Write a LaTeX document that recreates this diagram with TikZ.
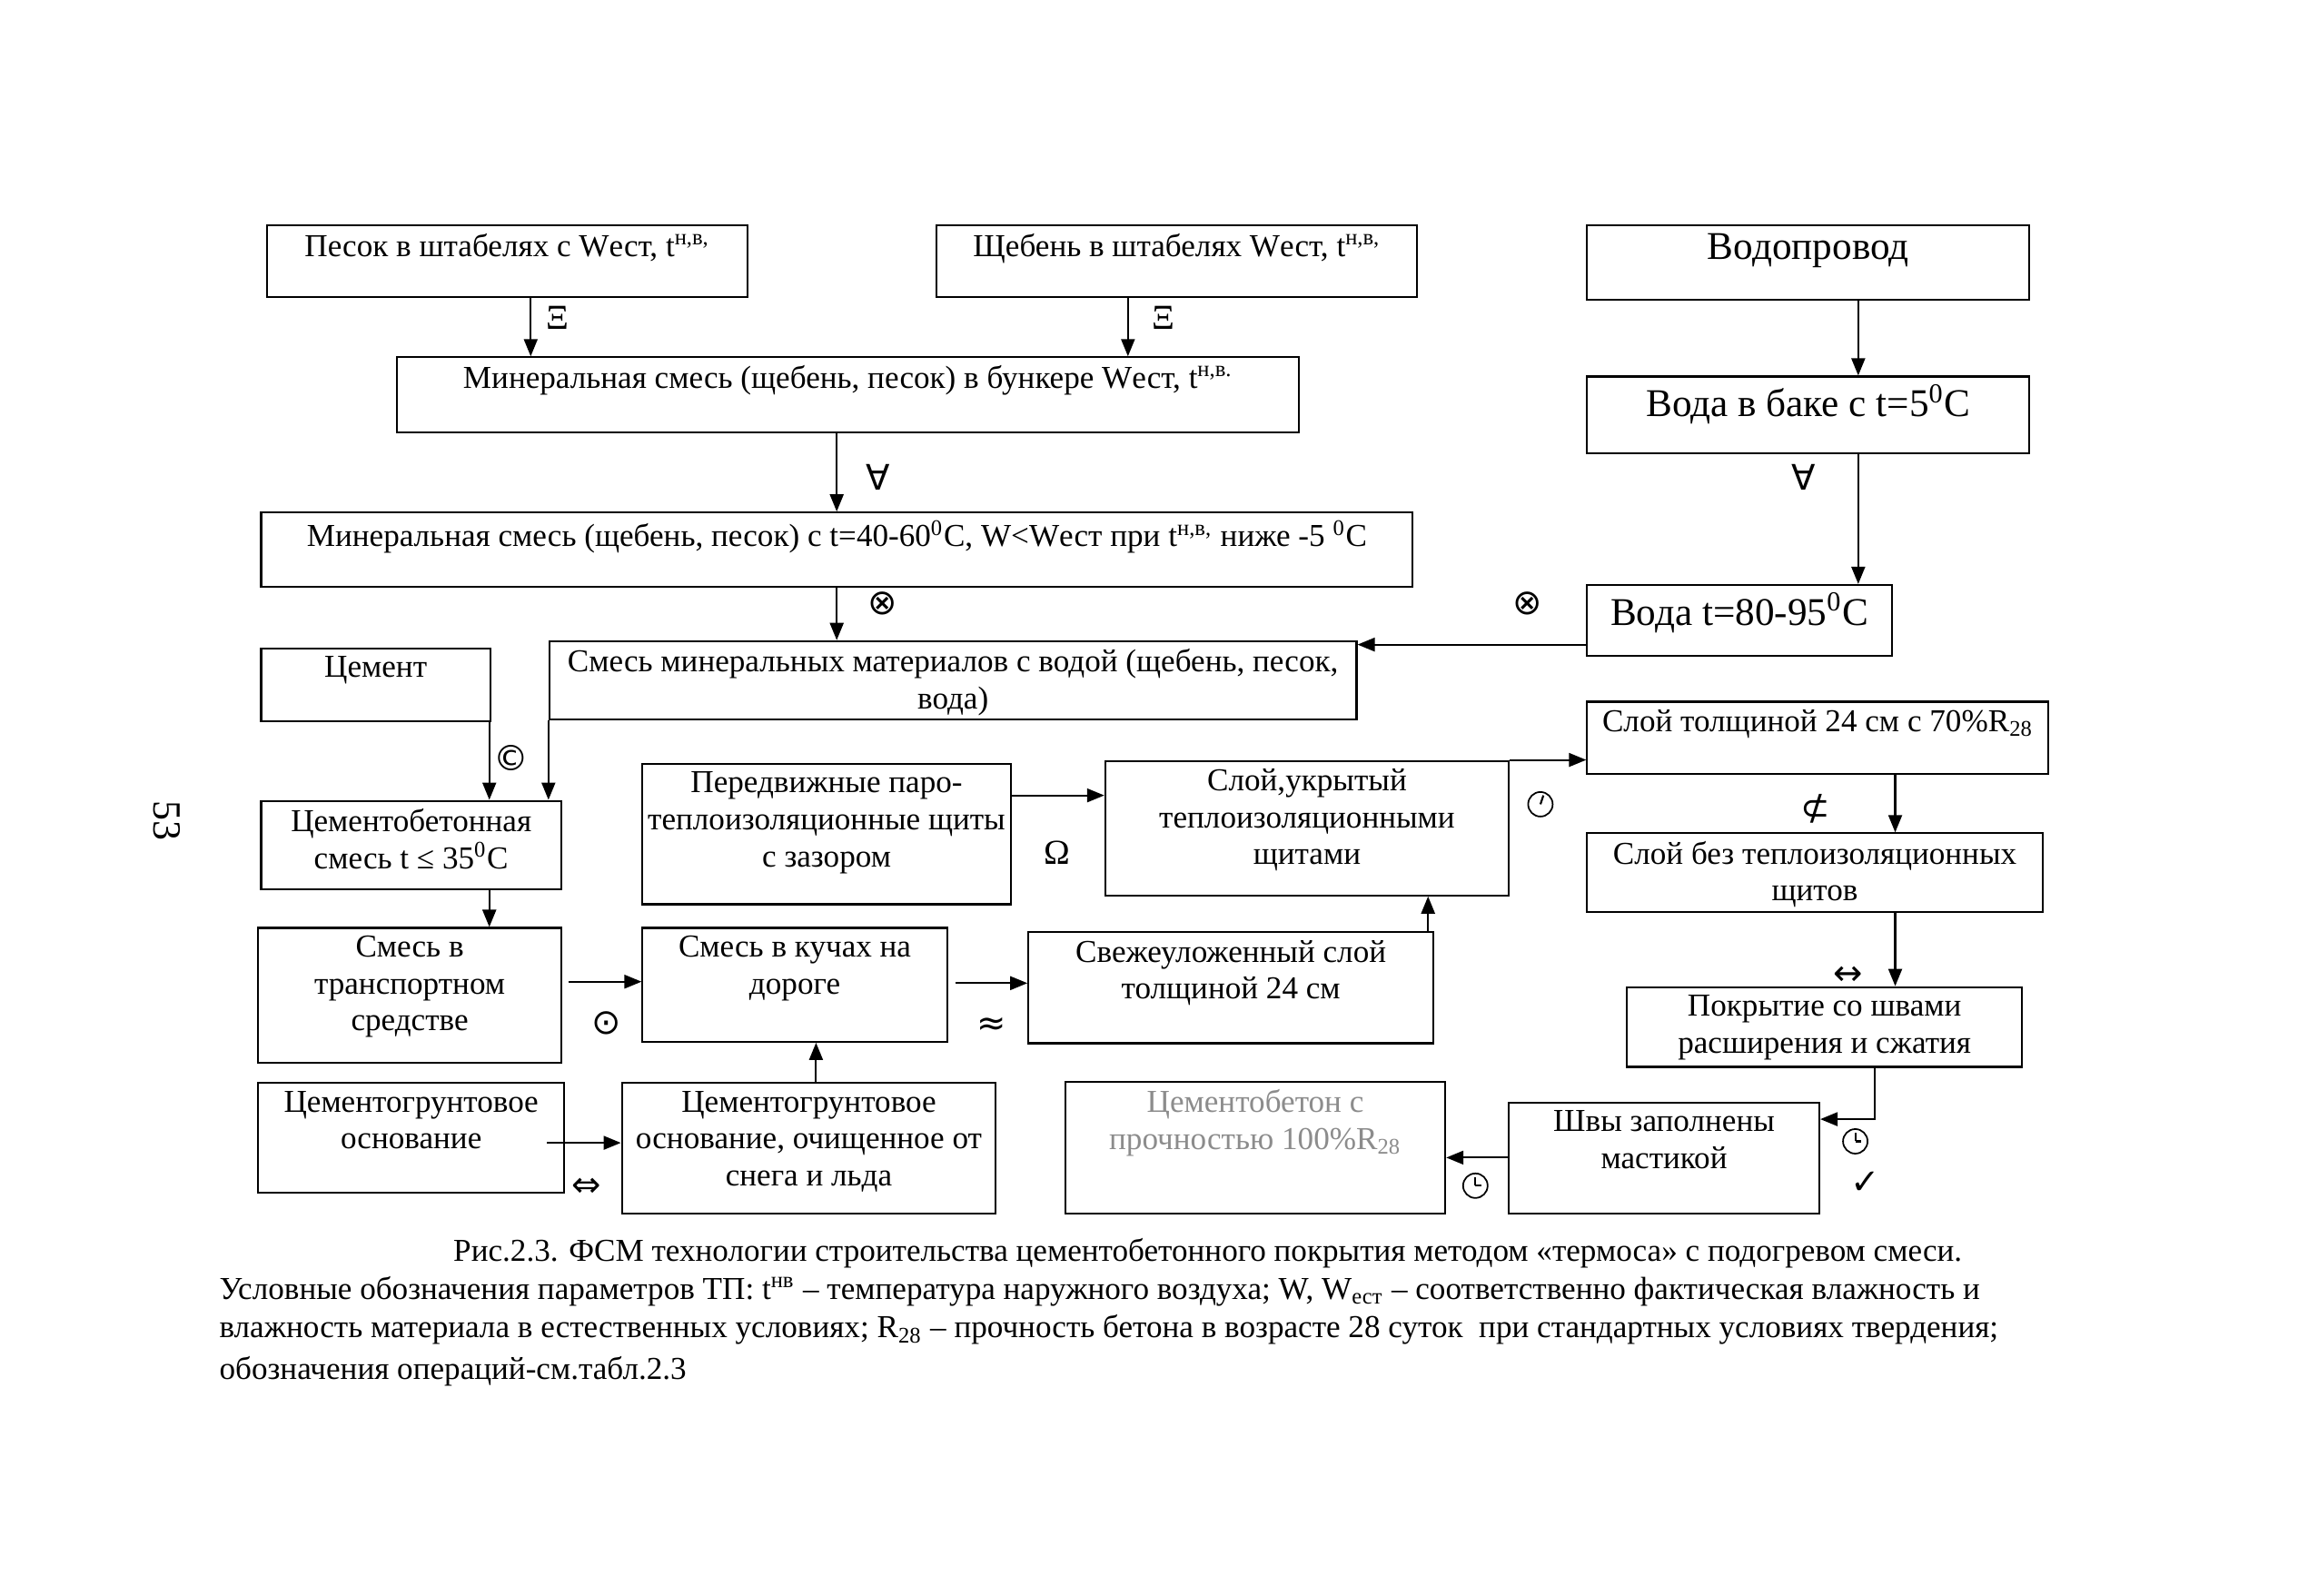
\documentclass[tikz,border=0pt]{standalone}
\usepackage{fontspec}
\setmainfont{Liberation Serif}
\newfontfamily\symf{DejaVu Sans}
\usetikzlibrary{arrows.meta,calc}
\newcommand\bx[7]{%
  \node[box, anchor=north west, minimum width={(#4-#2)*0.016276cm}, minimum height={(#5-#3)*0.016276cm}] (#1) at (#2,#3) {};
  \node[#6, anchor=north] (#1t) at ([yshift=-0.09cm]#1.north) {#7};}
\newcommand\clocka[3]{%
  \node[circle, draw, line width=0.5pt, minimum size=0.27cm, inner sep=0pt] (#1) at (#2,#3) {};
  \draw[line width=0.6pt] (#1.center) -- ++(2,-6);}
\newcommand\clockb[3]{%
  \node[circle, draw, line width=0.5pt, minimum size=0.27cm, inner sep=0pt] (#1) at (#2,#3) {};
  \draw[line width=0.6pt] (#1.center) -- ++(0,-6) (#1.center) -- ++(4,0);}
\begin{document}
\begin{tikzpicture}[x=0.016276cm,y=-0.016276cm,
  box/.style={draw, line width=0.6pt, inner sep=0pt, rectangle},
  txt/.style={inner sep=0pt, align=center, font=\fontsize{10}{11.6}\selectfont},
  gtxt/.style={txt, text=black!45},
  big/.style={inner sep=0pt, align=center, font=\fontsize{12.3}{14}\selectfont},
  arr/.style={line width=0.6pt, -{Triangle[length=1.9mm,width=1.5mm]}},
  lbl/.style={inner sep=0pt, font=\symf\fontsize{11}{12}\selectfont},
  lblr/.style={inner sep=0pt, font=\fontsize{11}{12}\selectfont},
  captxt/.style={inner sep=0pt, anchor=base west, font=\fontsize{10}{12}\selectfont}]
\fill[white] (0,0) rectangle (1568,1079);
\useasboundingbox (0,0) rectangle (1568,1079);

% boxes
\bx{pesok}{180}{152}{505}{200}{txt}{Песок в штабелях с Wест, t\textsuperscript{н,в,}}
\bx{scheb}{633}{152}{958}{200}{txt}{Щебень в штабелях Wест, t\textsuperscript{н,в,}}
\bx{vodopr}{1073}{152}{1372}{202}{big}{Водопровод}
\bx{bunker}{268}{241}{878}{292}{txt}{Минеральная смесь (щебень, песок) в бункере Wест, t\textsuperscript{н,в.}}
\bx{bak}{1073}{254}{1372}{306}{big}{Вода в баке с t=5\textsuperscript{0}C}
\bx{miner}{176}{346}{955}{396}{txt}{Минеральная смесь (щебень, песок) с t=40-60\textsuperscript{0}C, W<Wест при t\textsuperscript{н,в,} ниже -5 \textsuperscript{0}C}
\bx{voda}{1073}{395}{1279}{443}{big}{Вода t=80-95\textsuperscript{0}C}
\bx{cement}{176}{438}{331}{487}{txt}{Цемент}
\bx{smes}{371}{433}{917}{486}{txt}{Смесь минеральных материалов с водой (щебень, песок,\\вода)}
\bx{cbs}{176}{541}{379}{601}{txt}{Цементобетонная\\смесь t ≤ 35\textsuperscript{0}C}
\bx{pered}{434}{516}{683}{611}{txt}{Передвижные паро-\\теплоизоляционные щиты\\с зазором}
\bx{ukryt}{747}{514}{1020}{605}{txt}{Слой,укрытый\\теплоизоляционными\\щитами}
\bx{tolsh}{1073}{474}{1385}{523}{txt}{Слой толщиной 24 см с 70\%R\textsubscript{28}}
\bx{bez}{1073}{563}{1381}{616}{txt}{Слой без теплоизоляционных\\щитов}
\bx{trans}{174}{627}{379}{718}{txt}{Смесь в\\транспортном\\средстве}
\bx{kuchi}{434}{627}{640}{704}{txt}{Смесь в кучах на\\дороге}
\bx{svezh}{695}{630}{969}{705}{txt}{Свежеуложенный слой\\толщиной 24 см}
\bx{pokr}{1100}{667}{1367}{721}{txt}{Покрытие со швами\\расширения и сжатия}
\bx{cgr}{174}{732}{381}{806}{txt}{Цементогрунтовое\\основание}
\bx{cgro}{420}{732}{673}{820}{txt}{Цементогрунтовое\\основание, очищенное от\\снега и льда}
\bx{cb}{720}{731}{977}{820}{gtxt}{Цементобетон с\\прочностью 100\%R\textsubscript{28}}
\bx{shvy}{1020}{745}{1230}{820}{txt}{Швы заполнены\\мастикой}

% connectors
\draw[arr] (359,0 |- pesok.south) -- (359,0 |- bunker.north);
\draw[arr] (763,0 |- scheb.south) -- (763,0 |- bunker.north);
\draw[arr] (1257,0 |- vodopr.south) -- (1257,0 |- bak.north);
\draw[arr] (566,0 |- bunker.south) -- (566,0 |- miner.north);
\draw[arr] (1257,0 |- bak.south) -- (1257,0 |- voda.north);
\draw[arr] (566,0 |- miner.south) -- (566,0 |- smes.north);
\draw[arr] (voda.west |- 0,436) -- (smes.east |- 0,436);
\draw[arr] (331,0 |- cement.south) -- (331,0 |- cbs.north);
\draw[arr] (smes.south west) -- (smes.south west |- cbs.north);
\draw[arr] (331,0 |- cbs.south) -- (331,0 |- trans.north);
\draw[arr, shorten <=0.07cm] (trans.east |- 0,664) -- (kuchi.west |- 0,664);
\draw[arr, shorten <=0.08cm] (kuchi.east |- 0,665) -- (svezh.west |- 0,665);
\draw[arr, shorten <=-0.2cm] (cgr.east |- 0,773) -- (cgro.west |- 0,773);
\draw[arr] (552,0 |- cgro.north) -- (552,0 |- kuchi.south);
\draw[arr] (pered.east |- 0,538) -- (ukryt.west |- 0,538);
\draw[arr] (966,0 |- svezh.north) -- (966,0 |- ukryt.south);
\draw[arr] (ukryt.north east) -- (tolsh.west |- ukryt.north east);
\draw[arr] (1282,0 |- tolsh.south) -- (1282,0 |- bez.north);
\draw[arr] (1282,0 |- bez.south) -- (1282,0 |- pokr.north);
\draw[arr] (1268,0 |- pokr.south) |- (shvy.east |- 0,757);
\draw[arr] (shvy.west |- 0,783) -- (cb.east |- 0,783);

% operation labels
\node[lblr] (l1) at (377,215) {Ξ};
\node[lblr] (l2) at (787,215) {Ξ};
\node[lbl] (l3) at (594,323) {∀};
\node[lbl] (l4) at (1220,323) {∀};
\node[lbl] (l5) at (597,408) {⊗};
\node[lbl] (l6) at (1033,408) {⊗};
\node[lbl] (l7) at (346,513) {©};
\node[lbl] (l8) at (410,692) {⊙};
\node[lbl] (l9) at (671,694) {≈};
\node[lbl] (l10) at (397,803) {⇔};
\node[lblr] (l11) at (715,577) {Ω};
\node[lbl] (l12) at (1228,547) {⊄};
\node[lbl] (l13) at (1250,660) {↔};
\node[lbl] (l14) at (1262,800) {✓};
\clocka{k1}{1042}{544}
\clockb{k2}{1255}{772}
\clockb{k3}{998}{802}

% page number
\node[rotate=-90, inner sep=0pt, font=\fontsize{12.5}{14}\selectfont] (pg) at (113,555) {53};

% caption
\node[captxt, anchor=base] (c1) at (817,853) {Рис.2.3. ФСМ технологии строительства цементобетонного покрытия методом «термоса» с подогревом смеси.};
\node[captxt] (c2) at (148,879) {Условные обозначения параметров ТП: t\textsuperscript{нв} – температура наружного воздуха; W, W\textsubscript{ест} – соответственно фактическая влажность и};
\node[captxt] (c3) at (148,905) {влажность материала в естественных условиях; R\textsubscript{28} – прочность бетона в возрасте 28 суток\ \ при стандартных условиях твердения;};
\node[captxt] (c4) at (148,933) {обозначения операций-см.табл.2.3};
\end{tikzpicture}
\end{document}
